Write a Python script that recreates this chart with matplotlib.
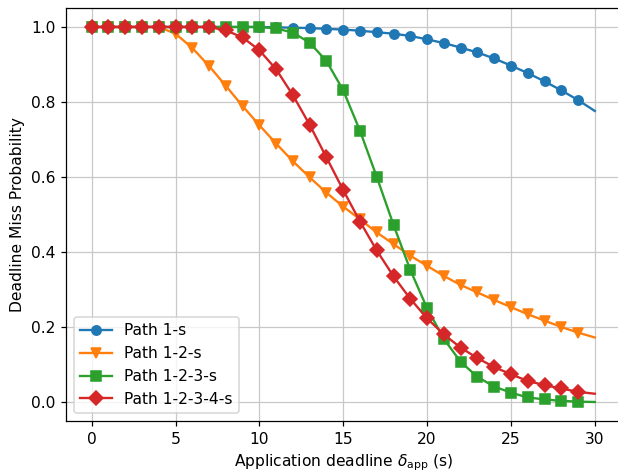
import matplotlib
matplotlib.use("Agg")
import matplotlib.pyplot as plt
import numpy as np

# deadline (s)
deadline = np.arange(0, 31)

# miss probability per path, one value per second of deadline
path_1s = [1.0, 1.0, 1.0, 1.0, 1.0, 1.0, 1.0, 1.0, 1.0, 1.0,
           1.0, 0.999, 0.998, 0.997, 0.995, 0.993, 0.99, 0.986, 0.982, 0.976,
           0.967, 0.957, 0.945, 0.932, 0.916, 0.897, 0.877, 0.855, 0.831, 0.805,
           0.776]
path_12s = [1.0, 1.0, 1.0, 1.0, 1.0, 0.982, 0.944, 0.896, 0.843, 0.789,
            0.738, 0.689, 0.642, 0.599, 0.558, 0.521, 0.487, 0.452, 0.421, 0.39,
            0.363, 0.336, 0.312, 0.292, 0.272, 0.253, 0.234, 0.217, 0.2, 0.185,
            0.172]
path_123s = [1.0, 1.0, 1.0, 1.0, 1.0, 1.0, 1.0, 1.0, 1.0, 1.0,
             1.0, 0.996, 0.985, 0.958, 0.909, 0.831, 0.723, 0.6, 0.472, 0.352,
             0.25, 0.168, 0.107, 0.067, 0.041, 0.025, 0.012, 0.007, 0.003, 0.001,
             0.0]
path_1234s = [1.0, 1.0, 1.0, 1.0, 1.0, 1.0, 1.0, 1.0, 0.991, 0.972,
              0.938, 0.887, 0.818, 0.739, 0.652, 0.565, 0.481, 0.404, 0.335, 0.275,
              0.223, 0.18, 0.145, 0.117, 0.093, 0.074, 0.056, 0.045, 0.036, 0.027,
              0.022]

dpi = 112
fig = plt.figure(figsize=(618 / dpi, 472 / dpi), dpi=dpi)
ax = fig.add_axes([0.1076, 0.1086, 0.8956, 0.874])

marks = slice(0, 30)
ax.plot(deadline, path_1s, marker='o', markevery=marks, label='Path 1-s')
ax.plot(deadline, path_12s, marker='v', markevery=marks, label='Path 1-2-s')
ax.plot(deadline, path_123s, marker='s', markevery=marks, label='Path 1-2-3-s')
ax.plot(deadline, path_1234s, marker='D', markevery=marks, label='Path 1-2-3-4-s')

ax.grid(True, color='#c8c8c8')
ax.set_xlabel(r'Application deadline $\delta_{\rm app}$ (s)')
ax.set_ylabel('Deadline Miss Probability')
ax.legend(loc='lower left')

plt.savefig('out.png', dpi=dpi)
